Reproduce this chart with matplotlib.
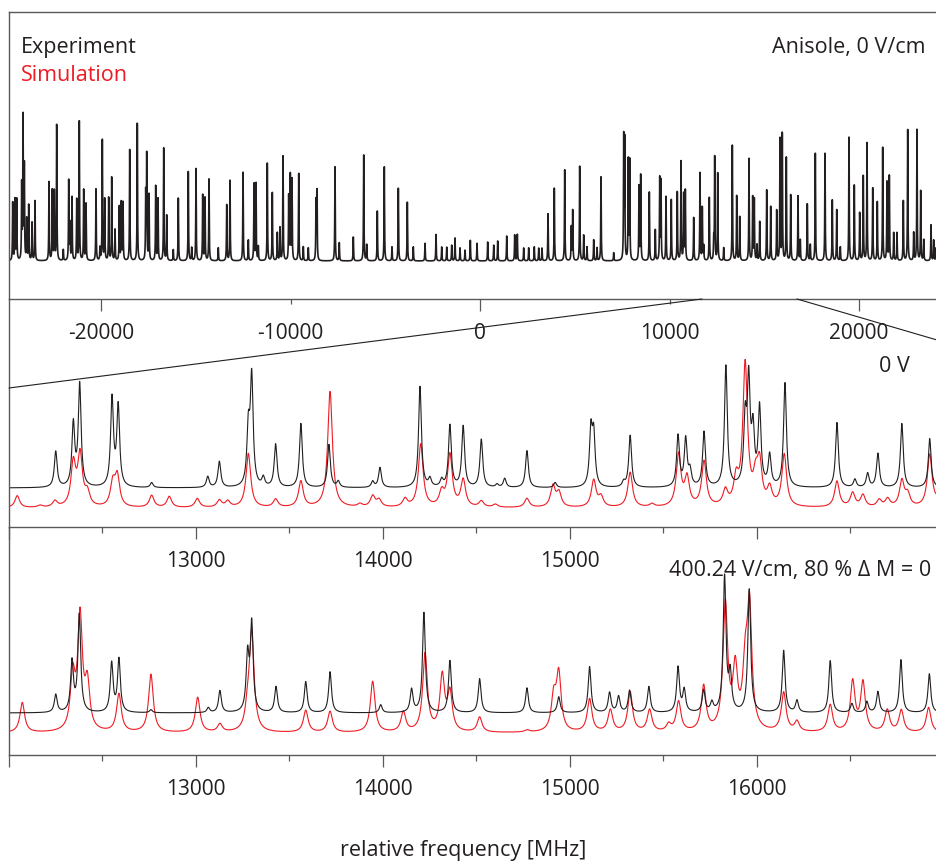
'''
Anisole rotational spectrum: full survey at 0 V/cm on top, with a zoom of the
12-17 GHz region comparing experiment (black) and simulation (red) at 0 V/cm
and at 400.24 V/cm.
'''

# Imports

import numpy as np
import matplotlib
matplotlib.use('Agg')
import matplotlib.pyplot as plt
from matplotlib.patches import ConnectionPatch

plt.rcParams['font.family'] = ['Open Sans', 'DejaVu Sans']

# Colours (Illustrator-like black / red)

INK = '#231f20'
RED = '#ed1c24'
AXIS = '#58595b'

# Survey spectrum, 0 V/cm (peak position in MHz, height in arbitrary units)

TOP_FREQ = [
    -24660, -24538, -24448, -24185, -24116, -24047, -23921, -23815, -23641, -23483,
    -22744, -22570, -22464, -22338, -21704, -21636, -21530, -21282, -21145, -20913,
    -20791, -20264, -19931, -19805, -19594, -19435, -19034, -18929, -18839, -18485,
    -18084, -17641, -17588, -17467, -17113, -16992, -16691, -16533, -15921, -15393,
    -14987, -14633, -14512, -14301, -13367, -13193, -12506, -11926, -11820, -11224,
    -10960, -10696, -10554, -10396, -10095, -10011, -9921, -9567, -8654, -8602,
    -7652, -6686, -6137, -5419, -5050, -4311, -3836, -2322, -1319, -512,
    406, 934, 1409, 1831, 1968, 2865, 3588, 3921, 4470, 4818,
    4892, 5261, 5472, 6000, 6385, 7583, 7636, 7826, 7900, 8390,
    8480, 8934, 9251, 9483, 9551, 9815, 10095, 10412, 10607, 10749,
    10834, 11277, 11609, 11731, 12100, 12385, 12543, 13314, 13546, 13704,
    14195, 14390, 14475, 14760, 15129, 15340, 15657, 15831, 15952, 16163,
    16396, 16781, 17272, 17694, 18206, 18591, 18823, 19472, 19752, 20036,
    20226, 20422, 20723, 20966, 21250, 21477, 21599, 22338, 22570, 23060,
    23256, 23799, 24063,
]
TOP_HEIGHT = [
    58, 62, 62, 74, 142, 95, 41, 55, 38, 61,
    79, 70, 69, 138, 80, 36, 63, 62, 139, 72,
    57, 72, 121, 61, 63, 83, 54, 58, 58, 111,
    138, 66, 106, 67, 76, 63, 113, 46, 63, 91,
    94, 67, 64, 82, 57, 82, 89, 77, 77, 98,
    68, 28, 33, 105, 64, 85, 81, 89, 59, 70,
    96, 24, 108, 50, 94, 73, 59, 27, 23, 21,
    19, 20, 25, 26, 27, 14, 48, 73, 91, 34,
    51, 95, 26, 21, 84, 123, 118, 100, 99, 74,
    85, 69, 31, 83, 79, 64, 61, 70, 101, 66,
    70, 44, 88, 53, 63, 103, 89, 116, 65, 44,
    102, 63, 61, 39, 71, 54, 51, 122, 129, 105,
    66, 65, 58, 108, 108, 61, 52, 126, 77, 48,
    85, 120, 74, 59, 113, 80, 85, 61, 131, 131,
    70, 36, 13,
]
TOP_WEAK_FREQ = [
    -21989, -20053, -19261, -16185, -15214, -13810, -12227, -11699, -9324, -9061,
    -7425, -5979, -4644, -3520, -2902, -2021, -1757, -1493, -1055, -792,
    -158, 723, 2306, 2570, 3098, 3272, 5646, 6174, 7055, 11805,
    12332, 12860, 14617, 16902, 17430, 19013, 21831, 22005, 22886, 23414,
    23942,
]
TOP_WEAK_HEIGHT = [
    11, 13, 31, 11, 13, 13, 21, 14, 14, 13,
    18, 16, 14, 14, 18, 14, 14, 16, 13, 11,
    18, 16, 13, 13, 13, 13, 14, 13, 8, 14,
    21, 13, 16, 21, 16, 14, 28, 28, 28, 21,
    21,
]

# Zoom, 0 V/cm

MID_EXP_FREQ = [
    12250, 12344, 12378, 12551, 12584, 12763, 13063, 13125, 13280, 13298,
    13360, 13426, 13561, 13711, 13761, 13945, 13984, 14198, 14251, 14314,
    14358, 14429, 14526, 14610, 14651, 14770, 14921, 15112, 15127, 15287,
    15322, 15578, 15619, 15642, 15717, 15834, 15937, 15956, 15979, 16014,
    16068, 16150, 16428, 16524, 16592, 16647, 16775, 16924,
]
MID_EXP_HEIGHT = [
    36, 62, 102, 88, 80, 5, 11, 26, 55, 108,
    9, 43, 64, 43, 6, 6, 20, 101, 8, 7,
    62, 61, 48, 3, 9, 37, 5, 55, 50, 5,
    52, 51, 47, 15, 55, 121, 63, 101, 52, 78,
    31, 104, 65, 8, 14, 34, 64, 49,
]
MID_SIM_FREQ = [
    12044, 12166, 12246, 12344, 12380, 12419, 12555, 12579, 12763, 12857,
    13007, 13125, 13170, 13280, 13426, 13561, 13717, 13877, 13945, 13979,
    14118, 14202, 14314, 14358, 14429, 14526, 14601, 14770, 14909, 14941,
    15127, 15166, 15322, 15439, 15581, 15626, 15717, 15831, 15889, 15937,
    15993, 16014, 16068, 16146, 16428, 16512, 16567, 16654, 16699, 16775,
    16806, 16924, 16990,
]
MID_SIM_HEIGHT = [
    12, 2, 6, 43, 51, 13, 23, 30, 12, 11,
    9, 7, 6, 54, 8, 26, 116, 3, 11, 7,
    8, 63, 14, 52, 27, 6, 3, 9, 21, 14,
    27, 10, 35, 3, 52, 28, 45, 15, 25, 142,
    24, 40, 17, 52, 26, 14, 12, 7, 8, 26,
    12, 52, 30,
]

# Zoom, 400.24 V/cm

LOW_EXP_FREQ = [
    12250, 12337, 12376, 12549, 12588, 12759, 13066, 13128, 13276, 13298,
    13428, 13587, 13717, 13988, 14153, 14219, 14358, 14517, 14770, 14940,
    15105, 15212, 15260, 15319, 15422, 15578, 15611, 15715, 15759, 15827,
    15857, 15959, 16143, 16214, 16392, 16508, 16588, 16647, 16770, 16922,
]
LOW_EXP_HEIGHT = [
    18, 50, 97, 49, 53, 3, 5, 22, 55, 87,
    26, 31, 41, 8, 23, 100, 52, 34, 25, 16,
    46, 20, 16, 22, 26, 45, 22, 22, 9, 135,
    36, 123, 62, 12, 52, 9, 11, 21, 53, 39,
]
LOW_SIM_FREQ = [
    12071, 12341, 12380, 12419, 12588, 12759, 13009, 13128, 13276, 13298,
    13587, 13717, 13945, 14109, 14225, 14317, 14358, 14517, 14770, 14913,
    14940, 15105, 15216, 15322, 15426, 15528, 15581, 15715, 15831, 15884,
    15937, 15960, 16143, 16214, 16392, 16512, 16567, 16697, 16772, 16918,
]
LOW_SIM_HEIGHT = [
    30, 53, 113, 45, 38, 58, 35, 8, 18, 98,
    22, 21, 51, 20, 78, 55, 38, 15, 2, 33,
    57, 33, 22, 40, 22, 7, 30, 45, 126, 59,
    55, 120, 39, 10, 27, 50, 49, 22, 22, 25,
]

# Axis ticks

TOP_MAJOR = [-20000, 0, 20000]
TOP_MINOR = [-10000, 10000]
ZOOM_MAJOR = [12000, 13000, 14000, 15000, 16000]
ZOOM_MINOR = [12500, 13500, 14500, 15500, 16500]
MID_LABELS = ['', '13000', '14000', '15000', '']
LOW_LABELS = ['', '13000', '14000', '15000', '16000']

# Zoom guide: region on the survey axis -> edges of the 0 V panel

ZOOM_TOP = (11715, 16728)
ZOOM_MID = (12000, 17840)
ZOOM_Y = 120


# Functions

def lorentz_sum(grid, centers, heights, hwhm):
    '''
    Builds a spectrum trace as a sum of Lorentzian lines.
    '''
    trace = np.zeros_like(grid)
    for c, h in zip(centers, heights):
        trace += h / (1.0 + ((grid - c) / hwhm) ** 2)
    return trace


def style_axis(ax, spines):
    '''
    Shows only the requested spines and strips the y axis.
    '''
    ax.patch.set_visible(False)
    for name, sp in ax.spines.items():
        sp.set_visible(name in spines)
        sp.set_color(AXIS)
        sp.set_linewidth(1.0)
    ax.set_yticks([])
    ax.xaxis.set_ticks_position('bottom')
    ax.tick_params(axis='x', which='both', direction='out', color=AXIS,
                   width=0.9, labelsize=15, labelcolor=INK)


assert len(TOP_FREQ) == len(TOP_HEIGHT)
assert len(TOP_WEAK_FREQ) == len(TOP_WEAK_HEIGHT)
assert len(MID_EXP_FREQ) == len(MID_EXP_HEIGHT)
assert len(MID_SIM_FREQ) == len(MID_SIM_HEIGHT)
assert len(LOW_EXP_FREQ) == len(LOW_EXP_HEIGHT)
assert len(LOW_SIM_FREQ) == len(LOW_SIM_HEIGHT)

W, H = 937, 861
fig = plt.figure(figsize=(W / 100, H / 100), dpi=100)

def px_axes(left, top, bottom, z):
    # axes box from pixel edges, running to the right figure edge
    return fig.add_axes([left / W, 1 - bottom / H, (W - left) / W,
                         (bottom - top) / H], zorder=z)

ax_top = px_axes(9, 12, 299, 3)
ax_mid = px_axes(9, 299, 527, 2)
ax_low = px_axes(9, 527, 755, 1)

# Survey panel
f_top = np.linspace(-25000, 24500, 9901)
survey = (lorentz_sum(f_top, TOP_FREQ, TOP_HEIGHT, 14)
          + lorentz_sum(f_top, TOP_WEAK_FREQ, TOP_WEAK_HEIGHT, 14))
ax_top.plot(f_top, survey, color=INK, lw=1.2)
ax_top.set_xlim(-24855, 24116)
ax_top.set_ylim(-38, 249)
style_axis(ax_top, ('left', 'top', 'bottom'))
ax_top.set_xticks(TOP_MAJOR, labels=['-20000', '0', '20000'])
ax_top.set_xticks(TOP_MINOR, labels=['-10000', '10000'], minor=True)
ax_top.tick_params(axis='x', which='major', length=8.6, pad=8.5)
ax_top.tick_params(axis='x', which='minor', length=3.6, pad=13.5)

# Zoom panels
f_zoom = np.linspace(11900, 17100, 5201)
offset = 20

ax_mid.plot(f_zoom, lorentz_sum(f_zoom, MID_SIM_FREQ, MID_SIM_HEIGHT, 15),
            color=RED, lw=0.8)
ax_mid.plot(f_zoom, offset + lorentz_sum(f_zoom, MID_EXP_FREQ, MID_EXP_HEIGHT, 9),
            color=INK, lw=0.8)
ax_mid.set_ylim(-19, 209)

ax_low.plot(f_zoom, lorentz_sum(f_zoom, LOW_SIM_FREQ, LOW_SIM_HEIGHT, 15),
            color=RED, lw=0.8)
ax_low.plot(f_zoom, offset + lorentz_sum(f_zoom, LOW_EXP_FREQ, LOW_EXP_HEIGHT, 9),
            color=INK, lw=0.8)
ax_low.set_ylim(-22, 206)

for ax, labels in ((ax_mid, MID_LABELS), (ax_low, LOW_LABELS)):
    ax.set_xlim(12000, 16963)
    style_axis(ax, ('left', 'bottom'))
    ax.set_xticks(ZOOM_MAJOR, labels=labels)
    ax.set_xticks(ZOOM_MINOR, minor=True)
    ax.tick_params(axis='x', which='major', length=8.6, pad=9.0)
    ax.tick_params(axis='x', which='minor', length=4.3)

# Zoom guide lines
y0 = ax_top.get_ylim()[0]
for xa, xb in zip(ZOOM_TOP, ZOOM_MID):
    con = ConnectionPatch(xyA=(xa, y0), coordsA=ax_top.transData,
                          xyB=(xb, ZOOM_Y), coordsB=ax_mid.transData,
                          color=INK, lw=0.8, zorder=5)
    fig.add_artist(con)

# Labels
fs = 15.5
fig.text(21 / W, 1 - 52.5 / H, 'Experiment', color=INK, fontsize=fs,
         va='baseline', ha='left')
fig.text(21 / W, 1 - 81 / H, 'Simulation', color=RED, fontsize=fs,
         va='baseline', ha='left')
fig.text(926 / W, 1 - 52.5 / H, 'Anisole, 0 V/cm', color=INK, fontsize=fs,
         va='baseline', ha='right')
fig.text(910 / W, 1 - 372 / H, '0 V', color=INK, fontsize=fs,
         va='baseline', ha='right')
fig.text(669 / W, 1 - 576 / H, '400.24 V/cm, 80 % \u0394 M = 0', color=INK,
         fontsize=fs, va='baseline', ha='left')
fig.text(463 / W, 1 - 856 / H, 'relative frequency [MHz]', color=INK,
         fontsize=fs, va='baseline', ha='center')

fig.savefig('out.png', dpi=100)
